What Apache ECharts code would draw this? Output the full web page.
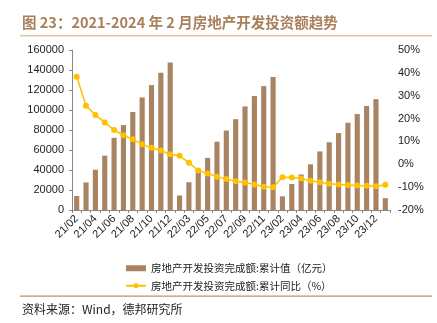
<!DOCTYPE html>
<html>
<head>
<meta charset="utf-8">
<script src="https://cdn.jsdelivr.net/npm/echarts@6/dist/echarts.min.js"></script>
<style>
  html, body { margin: 0; padding: 0; background: #fff; }
  #chart { width: 437px; height: 323px; }
</style>
</head>
<body>
<div id="chart"></div>
<script>
// Monthly cumulative periods (Jan–Feb reported together)
const months = [
  '21/02','21/03','21/04','21/05','21/06','21/07','21/08','21/09','21/10','21/11','21/12',
  '22/02','22/03','22/04','22/05','22/06','22/07','22/08','22/09','22/10','22/11','22/12',
  '23/02','23/03','23/04','23/05','23/06','23/07','23/08','23/09','23/10','23/11','23/12',
  '24/02'
];

// Cumulative real-estate development investment (亿元)
const cumulativeValue = [
  13986, 27576, 40240, 54318, 72179, 84895, 98060, 112568, 124934, 137160, 147602,
  14499, 27765, 39154, 52134, 68314, 79462, 90809, 103559, 113945, 123863, 132895,
  13669, 25974, 35514, 45701, 58550, 67717, 76900, 87269, 95922, 104045, 110913,
  11842
];

// Cumulative year-on-year change (%)
const cumulativeYoY = [
  38.3, 25.6, 21.6, 18.3, 15.0, 12.7, 10.9, 8.8, 7.2, 6.0, 4.4,
  3.7, 0.7, -2.7, -4.0, -5.4, -6.4, -7.4, -8.0, -8.8, -9.8, -10.0,
  -5.7, -5.8, -6.2, -7.2, -7.9, -8.5, -8.8, -9.1, -9.3, -9.4, -9.6,
  -9.0
];

const leftTicks = { min: 0, max: 160000, interval: 20000 };
const rightTicks = { min: -20, max: 50, interval: 10 };

const barName = '房地产开发投资完成额:累计值（亿元）';
const lineName = '房地产开发投资完成额:累计同比（%）';

const chart = echarts.init(document.getElementById('chart'), null, { renderer: 'canvas' });

const axisFont = { fontFamily: 'Liberation Sans, Arial, sans-serif', fontSize: 11, color: '#222' };

chart.setOption({
  animation: false,
  backgroundColor: '#fff',
  grid: { left: 72, right: 47, top: 50, bottom: 113 },
  graphic: [
    {
      type: 'text', left: 22, top: 15,
      style: {
        text: '图 23：2021-2024 年 2 月房地产开发投资额趋势',
        font: 'bold 14.5px "Noto Sans CJK SC", sans-serif',
        fill: '#A8805C'
      }
    },
    {
      type: 'rect', shape: { x: 20, y: 35, width: 412, height: 1.5 },
      style: { fill: '#DCC4AE' }
    },
    {
      type: 'rect', shape: { x: 20, y: 295.5, width: 412, height: 1.2 },
      style: { fill: '#C98E6A' }
    },
    {
      type: 'text', left: 22, top: 303,
      style: {
        text: '资料来源：Wind，德邦研究所',
        font: '12px "Noto Sans CJK SC", sans-serif',
        fill: '#222'
      }
    }
  ],
  legend: {
    orient: 'vertical',
    left: 120,
    top: 258,
    itemGap: 7,
    itemWidth: 20,
    itemHeight: 6,
    textStyle: { fontFamily: '"Noto Sans CJK SC", sans-serif', fontSize: 10.5, color: '#222' },
    data: [
      { name: barName, icon: 'rect' },
      { name: lineName }
    ]
  },
  xAxis: {
    type: 'category',
    data: months,
    boundaryGap: true,
    axisLine: { lineStyle: { color: '#888', width: 1 } },
    axisTick: { show: true, alignWithLabel: false, interval: 0, length: 3, lineStyle: { color: '#888' } },
    axisLabel: { ...axisFont, rotate: 45, interval: 1, margin: 7 }
  },
  yAxis: [
    {
      type: 'value',
      min: leftTicks.min, max: leftTicks.max, interval: leftTicks.interval,
      axisLine: { show: true, lineStyle: { color: '#888' } },
      axisTick: { show: true, length: 3, lineStyle: { color: '#888' } },
      splitLine: { show: false },
      axisLabel: { ...axisFont, margin: 8, formatter: v => String(v) }
    },
    {
      type: 'value',
      min: rightTicks.min, max: rightTicks.max, interval: rightTicks.interval,
      axisLine: { show: false },
      axisTick: { show: false },
      splitLine: { show: false },
      axisLabel: { ...axisFont, margin: 8, formatter: v => v + '%' }
    }
  ],
  series: [
    {
      name: barName,
      type: 'bar',
      yAxisIndex: 0,
      data: cumulativeValue,
      barWidth: '55%',
      itemStyle: { color: '#A98463' }
    },
    {
      name: lineName,
      type: 'line',
      yAxisIndex: 1,
      data: cumulativeYoY,
      symbol: 'circle',
      symbolSize: 6,
      lineStyle: { color: '#FFC000', width: 1.5 },
      itemStyle: { color: '#FFC000' }
    }
  ]
});
</script>
</body>
</html>
